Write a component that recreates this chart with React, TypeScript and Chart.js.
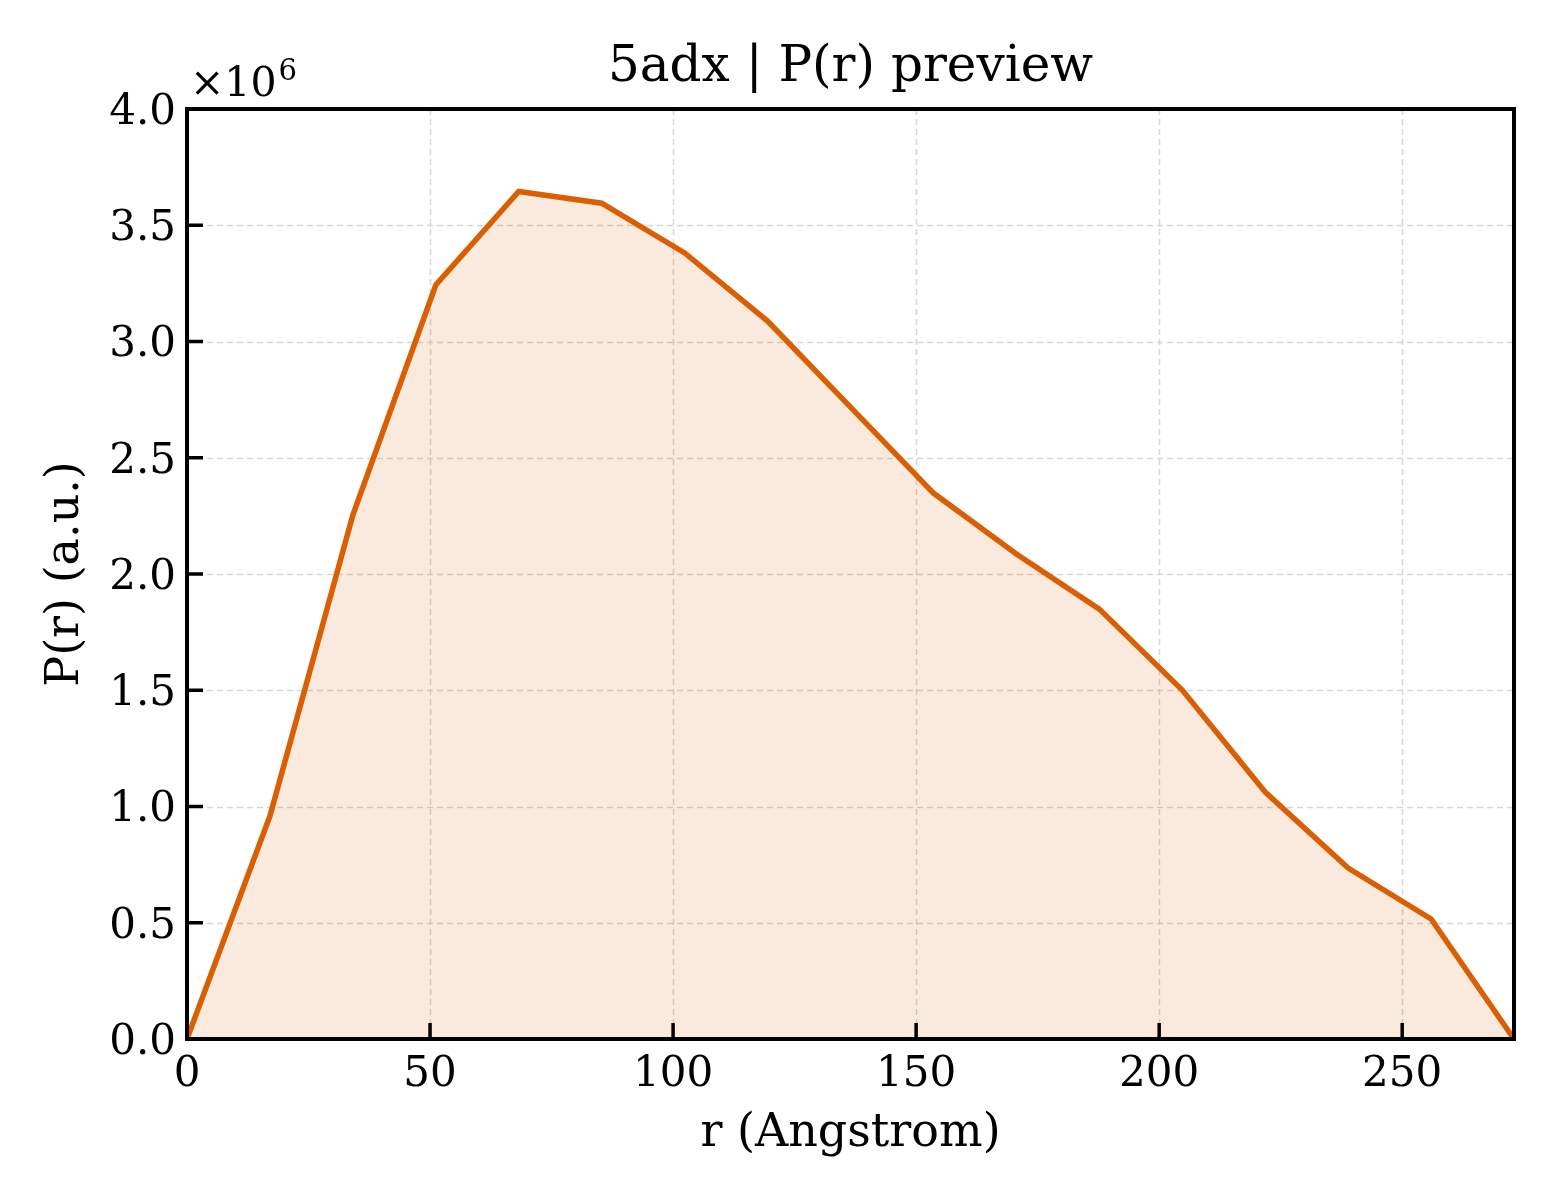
import React, { useEffect, useRef } from "react";
import { Chart, registerables } from "chart.js";

Chart.register(...registerables);

const chartTitle = "5adx | P(r) preview";
const xAxisTitle = "r (Angstrom)";
const yAxisTitle = "P(r) (a.u.)";
const yExponentLabel = "×10";
const yExponent = "6";

const rValues = [0, 17.06, 34.13, 51.19, 68.25, 85.31, 102.38, 119.44, 136.5, 153.56, 170.63, 187.69, 204.75, 221.81, 238.88, 255.94, 273.0];
const pValues = [0, 0.959e6, 2.254e6, 3.243e6, 3.645e6, 3.595e6, 3.381e6, 3.088e6, 2.718e6, 2.348e6, 2.086e6, 1.849e6, 1.501e6, 1.062e6, 0.735e6, 0.516e6, 0];

const xMin = 0;
const xMax = 273;
const xStep = 50;
const yMin = 0;
const yMax = 4.0e6;
const yStep = 0.5e6;

const FONT = '"DejaVu Serif", serif';
const LINE_COLOR = "#d95f02";
const FILL_COLOR = "rgba(217,95,2,0.13)";

const framePlugin = {
  id: "framePlugin",
  beforeDatasetsDraw(chart: any) {
    const { ctx, chartArea } = chart;
    const xs = chart.scales.x;
    const ys = chart.scales.y;
    ctx.save();
    ctx.strokeStyle = "#d6d6d6";
    ctx.lineWidth = 1.5;
    ctx.setLineDash([6, 4]);
    xs.ticks.forEach((t: any) => {
      const px = Math.round(xs.getPixelForValue(t.value)) + 0.5;
      ctx.beginPath();
      ctx.moveTo(px, chartArea.top);
      ctx.lineTo(px, chartArea.bottom);
      ctx.stroke();
    });
    ys.ticks.forEach((t: any) => {
      const py = Math.round(ys.getPixelForValue(t.value)) + 0.5;
      ctx.beginPath();
      ctx.moveTo(chartArea.left, py);
      ctx.lineTo(chartArea.right, py);
      ctx.stroke();
    });
    ctx.restore();
  },
  afterDatasetsDraw(chart: any) {
    const { ctx, chartArea } = chart;
    const xs = chart.scales.x;
    const ys = chart.scales.y;
    ctx.save();
    ctx.setLineDash([]);
    ctx.strokeStyle = "#000";
    ctx.lineWidth = 4;
    ctx.strokeRect(chartArea.left, chartArea.top, chartArea.right - chartArea.left, chartArea.bottom - chartArea.top);
    ctx.lineWidth = 3.5;
    const tl = 16;
    xs.ticks.forEach((t: any) => {
      const px = xs.getPixelForValue(t.value);
      ctx.beginPath();
      ctx.moveTo(px, chartArea.bottom);
      ctx.lineTo(px, chartArea.bottom - tl);
      ctx.stroke();
    });
    ys.ticks.forEach((t: any) => {
      const py = ys.getPixelForValue(t.value);
      ctx.beginPath();
      ctx.moveTo(chartArea.left, py);
      ctx.lineTo(chartArea.left + tl, py);
      ctx.stroke();
    });
    // texts
    ctx.fillStyle = "#000";
    const cx = (chartArea.left + chartArea.right) / 2;
    const cy = (chartArea.top + chartArea.bottom) / 2;
    ctx.textAlign = "center";
    ctx.textBaseline = "middle";
    ctx.font = `50px ${FONT}`;
    ctx.fillText(chartTitle, cx, 68);
    ctx.font = `46px ${FONT}`;
    ctx.fillText(xAxisTitle, cx, 1134);
    ctx.save();
    ctx.translate(66, cy);
    ctx.rotate(-Math.PI / 2);
    ctx.fillText(yAxisTitle, 0, 0);
    ctx.restore();
    ctx.textAlign = "left";
    ctx.textBaseline = "alphabetic";
    ctx.font = `41px ${FONT}`;
    ctx.fillText(yExponentLabel, 190, 96);
    const w = ctx.measureText(yExponentLabel).width;
    ctx.font = `29px ${FONT}`;
    ctx.fillText(yExponent, 190 + w + 2, 80);
    ctx.restore();
  },
};

export default function App() {
  const ref = useRef<HTMLCanvasElement | null>(null);
  useEffect(() => {
    if (!ref.current) return;
    const chart = new Chart(ref.current, {
      type: "line",
      data: {
        datasets: [
          {
            data: rValues.map((r, i) => ({ x: r, y: pValues[i] })),
            borderColor: LINE_COLOR,
            backgroundColor: FILL_COLOR,
            borderWidth: 5.5,
            fill: "origin",
            pointRadius: 0,
            tension: 0,
          },
        ],
      },
      options: {
        responsive: false,
        animation: false,
        devicePixelRatio: 1,
        layout: { padding: { top: 109, right: 46, left: 0, bottom: 0 } },
        plugins: { legend: { display: false }, title: { display: false }, tooltip: { enabled: false } },
        scales: {
          x: {
            type: "linear",
            min: xMin,
            max: xMax,
            grid: { display: false, drawTicks: false },
            border: { display: false },
            afterBuildTicks: (s: any) => {
              s.ticks = s.ticks.filter((t: any) => t.value % xStep === 0);
            },
            ticks: {
              stepSize: xStep,
              padding: 11,
              color: "#000",
              font: { family: FONT, size: 42 },
              maxRotation: 0,
              callback: (v: any) => String(v),
            },
            afterFit: (s: any) => {
              s.height = 161;
            },
          },
          y: {
            type: "linear",
            min: yMin,
            max: yMax,
            grid: { display: false, drawTicks: false },
            border: { display: false },
            ticks: {
              stepSize: yStep,
              padding: 11,
              labelOffset: 4,
              color: "#000",
              font: { family: FONT, size: 42 },
              callback: (v: any) => (Number(v) / 1e6).toFixed(1),
            },
            afterFit: (s: any) => {
              s.width = 187;
            },
          },
        },
      },
      plugins: [framePlugin],
    });
    return () => chart.destroy();
  }, []);
  return (
    <div style={{ position: "absolute", left: 0, top: 0, width: 1560, height: 1200, background: "#fff" }}>
      <canvas ref={ref} width={1560} height={1200} style={{ width: 1560, height: 1200 }} />
    </div>
  );
}
